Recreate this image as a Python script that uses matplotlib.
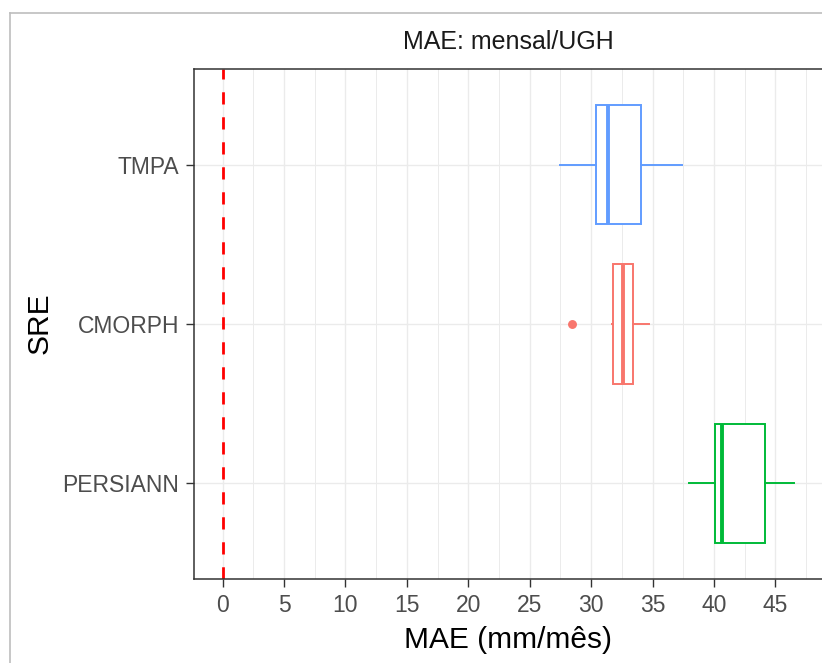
import matplotlib
matplotlib.use("Agg")
import matplotlib.pyplot as plt
from matplotlib.lines import Line2D
from matplotlib.ticker import MultipleLocator

plt.rcParams['font.family'] = ['Liberation Sans', 'DejaVu Sans']

# resumo dos boxplots do MAE mensal por produto
produtos = ["PERSIANN", "CMORPH", "TMPA"]
cores = ["#00BA38", "#F8766D", "#619CFF"]
whislo = [37.97, 31.73, 27.47]
q1 = [40.09, 31.81, 30.40]
mediana = [40.69, 32.62, 31.35]
q3 = [44.16, 33.44, 34.06]
whishi = [46.55, 34.74, 37.40]
outliers = [[], [28.42], []]

W, H = 822, 663
fig = plt.figure(figsize=(W / 100, H / 100), dpi=100)

# painel (a borda direita fica fora da figura)
esq, dir_, topo, base = 194, 823, 69, 579
ax = fig.add_axes([esq / W, (H - base) / H, (dir_ - esq) / W, (base - topo) / H])

faixa = max(whishi) - 0
ax.set_xlim(0 - 0.05 * faixa, max(whishi) + 0.05 * faixa)
ax.set_ylim(0.4, 3.6)

ax.xaxis.set_major_locator(MultipleLocator(5))
ax.xaxis.set_minor_locator(MultipleLocator(2.5))
ax.grid(which='major', color='#EBEBEB', lw=1.0, zorder=0)
ax.grid(which='minor', axis='x', color='#EBEBEB', lw=0.7, zorder=0)
ax.set_axisbelow(True)

ax.axvline(0, color='#FF0000', lw=2.0, dashes=(4.4, 4.6), zorder=1)

for i, nome in enumerate(produtos):
    stats = [dict(whislo=whislo[i], q1=q1[i], med=mediana[i], q3=q3[i],
                  whishi=whishi[i], fliers=outliers[i], label=nome)]
    c = cores[i]
    ax.bxp(stats, positions=[i + 1], widths=0.75, orientation='horizontal',
           showcaps=False, patch_artist=True, manage_ticks=False,
           boxprops=dict(facecolor='white', edgecolor=c, lw=1.4),
           medianprops=dict(color=c, lw=2.8, solid_capstyle='butt'),
           whiskerprops=dict(color=c, lw=1.4),
           flierprops=dict(marker='o', markerfacecolor=c, markeredgecolor=c,
                           markersize=5.4))

ax.set_yticks([1, 2, 3])
ax.set_yticklabels(produtos)
ax.tick_params(axis='both', which='major', length=5.5, width=1.0,
               color='#333333', labelcolor='#4D4D4D', labelsize=16.5, pad=5)
ax.tick_params(axis='x', which='minor', length=0)

for lado in ['left', 'top', 'bottom']:
    ax.spines[lado].set_color('#333333')
    ax.spines[lado].set_linewidth(1.1)
ax.spines['right'].set_visible(False)

fig.text(508 / W, 1 - 42 / H, "MAE: mensal/UGH", ha='center', va='center',
         fontsize=18, color='#1A1A1A')
fig.text(508 / W, 1 - 648 / H, "MAE (mm/mês)", ha='center', va='baseline',
         fontsize=21.5, color='black')
fig.text(40 / W, 1 - 323 / H, "SRE", ha='center', va='center', rotation=90,
         fontsize=21.5, color='black')

# moldura externa cinza
fig.add_artist(Line2D([10 / W, 10 / W], [0, 1 - 12.5 / H], color='#BEBEBE',
                      lw=1.2, transform=fig.transFigure))
fig.add_artist(Line2D([10 / W, 1], [1 - 12.5 / H, 1 - 12.5 / H], color='#BEBEBE',
                      lw=1.2, transform=fig.transFigure))

fig.savefig("out.png", dpi=100)
